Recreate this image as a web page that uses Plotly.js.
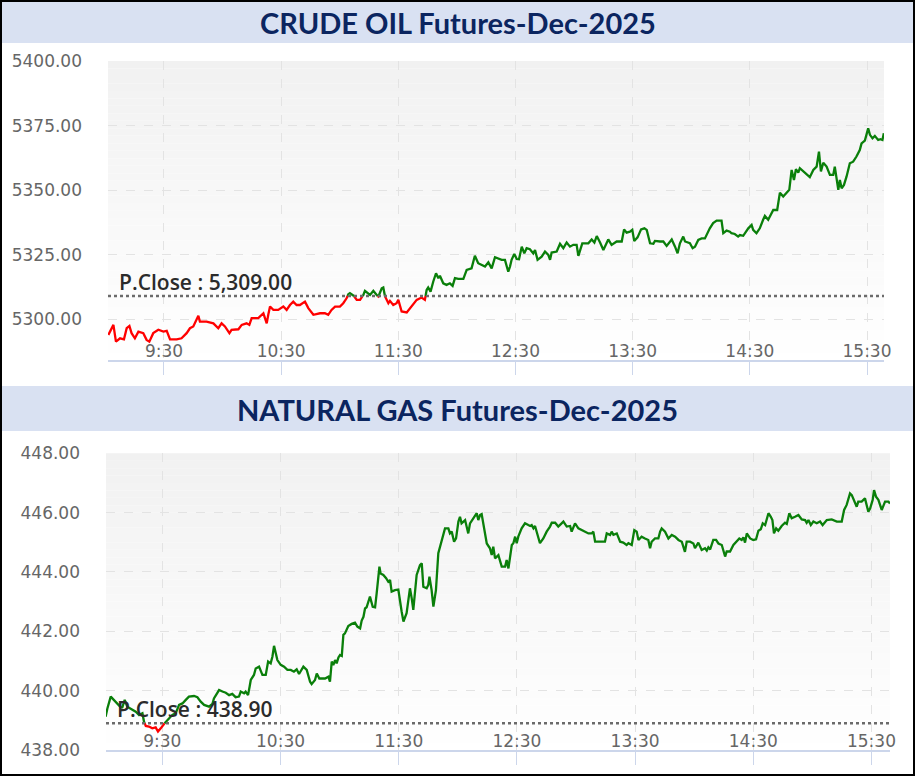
<!DOCTYPE html>
<html>
<head>
<meta charset="utf-8">
<script src="https://cdn.plot.ly/plotly-3.0.1.min.js"></script>
<style>
  html, body { margin: 0; padding: 0; background: #ffffff; }
  #chart { width: 915px; height: 776px; }
</style>
</head>
<body>
<div id="chart"></div>
<script>
// ---------------- DATA ----------------
// minutes after 09:00 for each sampled price
const crudeTitle = "CRUDE OIL Futures-Dec-2025";
const gasTitle = "NATURAL GAS Futures-Dec-2025";
const tickMinutes = [30, 90, 150, 210, 270, 330, 390];
const tickLabels = ["9:30", "10:30", "11:30", "12:30", "13:30", "14:30", "15:30"];

const crudePrevClose = 5309.00;
const crudeTicks = [5300, 5325, 5350, 5375, 5400];
const crudeMinutes = [
  1.5,4.1,5.4,7.5,9.5,10.9,12.3,13.4,15.1,16.9,19.4,21.1,22.5,24.5,27.1,29.7,31.4,33.1,36.5,39.0,
  41.6,43.3,45.0,46.7,47.6,48.4,51.8,55.3,57.8,59.5,61.2,63.5,64.6,68.1,69.8,72.3,73.7,74.9,78.3,80.9,
  82.6,83.4,84.3,86.0,88.5,91.1,92.8,94.5,96.2,97.9,99.6,102.2,103.9,106.5,109.9,112.4,114.1,115.8,117.6,120.1,
  121.8,123.5,
  124.4,125.2,126.9,128.7,130.4,132.1,132.9,134.6,135.5,137.2,138.9,139.8,141.5,142.3,143.2,144.9,145.7,147.4,149.1,150.0,
  151.7,154.3,156.0,157.7,159.4,161.9,163.6,164.5,165.3,166.5,167.9,169.3,170.5,171.3,173.0,174.7,176.4,177.8,179.0,180.7,
  183.3,185.0,187.5,189.2,190.9,192.7,194.4,196.1,197.8,
  199.5,201.2,202.9,204.6,206.3,207.2,208.0,209.4,210.6,211.8,213.2,214.5,215.7,217.4,219.1,220.0,220.8,221.3,223.4,225.1,
  226.8,227.7,228.5,231.1,232.8,234.5,236.2,237.9,239.6,241.3,242.2,244.2,247.3,249.0,250.4,251.6,253.3,255.0,257.5,259.2,
  261.8,264.4,265.6,266.9,268.6,269.8,270.8,272.5,274.3,276.0,277.2,278.9,280.6,281.4,284.0,285.7,287.4,288.6,290.0,291.7,
  293.0,294.2,295.9,296.8,
  299.3,300.7,301.9,303.6,305.3,307.0,307.8,309.5,311.2,313.0,315.5,316.4,318.1,319.8,320.6,322.3,324.0,324.9,326.6,327.5,
  329.2,330.9,331.7,333.4,335.1,336.8,337.7,339.4,341.1,342.0,344.0,345.4,347.1,348.8,350.2,351.4,352.6,353.6,354.8,355.6,
  357.3,359.0,360.7,362.5,364.2,365.4,366.4,367.6,369.3,371.0,372.7,373.5,375.3,376.1,377.0,378.2,379.5,381.2,382.9,384.6,
  386.3,387.2,388.9,390.6,391.5,392.8,394.0,395.7,396.9,397.9,398.6
];
const crudePrices = [
  5293.9,5297.8,5291.3,5292.6,5292.2,5296.5,5297.4,5294.6,5292.6,5295.2,5294.6,5292.0,5291.3,5294.6,5295.9,5295.2,5295.5,5292.2,5292.2,5292.6,
  5294.6,5296.5,5297.2,5299.7,5301.3,5299.1,5299.1,5298.4,5296.5,5298.4,5297.2,5294.6,5295.9,5296.1,5297.8,5298.4,5297.8,5300.4,5300.4,5302.3,
  5298.4,5301.7,5304.9,5303.6,5303.6,5304.9,5303.6,5305.5,5306.8,5305.5,5305.5,5306.8,5304.3,5301.7,5302.3,5302.3,5301.7,5303.6,5304.9,5304.9,
  5306.2,5308.1,
  5309.7,5310.1,5309.4,5307.5,5307.5,5309.4,5311.0,5310.1,5309.4,5311.0,5309.2,5308.8,5312.0,5312.3,5308.8,5306.2,5307.1,5305.5,5306.2,5307.5,
  5303.0,5302.6,5304.3,5306.2,5307.5,5308.4,5307.5,5311.3,5312.3,5310.7,5314.6,5317.8,5315.9,5316.8,5313.9,5313.3,5313.9,5312.9,5315.9,5315.6,
  5315.6,5319.1,5319.7,5324.6,5321.7,5321.0,5320.4,5322.0,5319.7,
  5324.0,5323.6,5323.0,5323.0,5318.4,5320.4,5323.0,5325.3,5323.3,5323.2,5328.1,5325.5,5327.5,5327.1,5325.5,5326.8,5324.9,5323.0,5324.2,5326.2,
  5324.9,5323.0,5325.8,5326.2,5329.2,5327.5,5329.7,5328.1,5328.8,5328.8,5324.5,5329.4,5329.4,5330.9,5329.7,5332.2,5329.7,5326.8,5330.9,5328.8,
  5330.1,5330.1,5334.8,5333.5,5333.9,5334.6,5330.3,5331.7,5334.8,5335.2,5334.6,5329.4,5329.2,5330.3,5330.1,5330.1,5328.4,5329.7,5330.9,5328.1,
  5325.5,5329.4,5332.0,5330.1,
  5329.4,5327.5,5328.1,5330.7,5331.3,5331.3,5332.6,5335.2,5337.2,5338.2,5338.2,5333.3,5334.3,5333.9,5333.3,5333.0,5332.0,5332.6,5332.3,5333.3,
  5335.2,5336.5,5334.6,5333.3,5335.2,5338.5,5340.0,5338.5,5340.8,5342.3,5342.3,5349.0,5347.5,5348.8,5350.1,5357.8,5353.9,5358.1,5356.8,5358.5,
  5357.2,5355.9,5355.0,5357.8,5359.1,5364.9,5357.2,5360.6,5359.1,5355.9,5355.9,5359.1,5350.1,5353.9,5350.7,5352.0,5355.2,5360.4,5361.0,5363.0,
  5365.5,5368.1,5369.2,5373.9,5371.4,5370.1,5371.0,5369.4,5369.7,5369.4,5372.0
];

const gasPrevClose = 438.90;
const gasTicks = [438, 440, 442, 444, 446, 448];
const gasMinutes = [
  1.2,2.1,3.8,5.5,7.2,8.9,9.7,10.9,12.2,14.0,16.5,18.2,19.9,20.7,21.6,23.2,24.9,26.6,27.8,29.2,
  30.9,32.5,34.2,35.1,36.8,38.5,40.2,41.9,43.5,46.1,47.8,49.5,51.2,53.7,55.4,56.2,57.9,58.8,60.5,62.2,
  63.9,65.5,67.2,68.9,69.8,71.5,72.3,73.5,74.3,74.9,76.5,77.4,79.1,80.8,82.5,83.7,85.0,85.9,86.7,87.5,
  88.4,90.1,91.8,93.5,95.2,96.8,98.2,99.4,
  101.6,103.3,105.0,105.8,107.5,108.4,109.7,112.6,114.3,115.1,116.0,116.8,117.7,118.5,119.4,120.2,121.1,121.9,122.7,124.4,
  126.1,127.8,129.0,130.4,131.2,132.1,132.9,133.7,135.4,136.8,138.0,138.8,139.7,140.2,140.8,142.2,143.6,144.7,145.6,146.4,
  148.1,149.8,151.5,152.4,154.0,154.9,155.7,156.6,157.4,159.1,160.8,161.7,162.5,164.2,165.0,165.6,166.7,167.6,168.9,170.1,
  171.8,173.5,175.2,176.0,176.9,178.1,179.1,180.3,181.1,181.9,183.7,185.3,186.2,187.9,189.6,190.4,191.3,192.1,193.0,194.7,
  196.3,197.2,198.0,
  198.9,200.6,202.3,204.0,204.8,205.7,206.5,207.4,208.2,209.1,209.9,210.7,212.4,214.1,215.8,216.7,217.5,218.4,219.2,220.1,
  220.9,221.7,223.4,225.1,226.8,227.7,229.4,231.0,232.7,233.6,235.3,237.0,237.8,239.5,241.2,242.9,244.6,246.3,248.0,248.8,
  249.7,253.0,254.7,255.6,257.3,258.1,259.0,260.7,262.4,264.0,265.7,266.6,268.3,269.6,270.8,271.7,273.3,275.0,276.7,277.6,
  278.4,280.1,281.8,282.7,283.5,285.2,286.9,288.6,290.3,292.0,293.7,295.3,296.2,
  297.9,299.6,300.4,302.1,303.8,305.5,306.4,307.2,308.1,308.9,309.7,311.1,312.3,314.0,314.8,315.7,316.5,318.2,319.9,321.6,
  322.9,324.1,325.0,325.8,326.7,328.4,330.0,331.4,332.6,333.8,334.8,336.0,336.8,337.7,338.9,339.7,340.5,341.6,342.7,344.4,
  346.1,347.0,348.3,349.5,351.2,352.9,354.6,356.3,357.1,358.0,359.2,360.5,362.2,363.9,365.2,367.3,369.8,372.4,374.9,376.1,
  377.4,378.3,379.1,380.0,381.2,382.5,383.3,385.0,386.7,388.4,389.3,390.6,391.3,392.3,393.5,395.2,396.9,398.6,399.4
];
const gasPrices = [
  439.12,439.40,439.80,439.69,439.57,439.44,439.44,439.69,439.46,439.40,439.29,439.18,439.24,438.95,438.81,438.79,438.73,438.76,438.62,438.73,
  438.88,439.01,439.12,439.18,439.24,439.52,439.57,439.69,439.80,439.82,439.78,439.63,439.52,439.46,439.55,439.74,439.91,440.02,439.97,439.93,
  439.85,439.89,439.78,439.80,439.97,439.91,439.97,439.85,440.13,440.36,440.53,440.75,440.81,440.53,440.53,440.98,440.92,441.15,441.51,441.26,
  441.03,440.87,440.81,440.70,440.70,440.64,440.72,440.56,
  440.81,440.70,440.30,440.22,440.36,440.58,440.41,440.41,440.47,440.30,440.98,440.86,441.03,440.92,441.12,441.20,441.17,441.88,441.93,442.18,
  442.25,442.29,442.16,442.10,442.36,442.49,442.77,442.81,443.17,442.83,442.81,443.28,443.84,444.18,443.95,443.90,443.79,443.67,443.73,443.34,
  443.39,443.41,442.66,442.33,442.61,443.06,443.45,443.11,442.72,443.90,444.23,444.29,443.50,443.45,443.56,443.84,443.39,442.83,443.39,444.63,
  445.08,445.47,445.47,445.30,445.36,445.02,445.13,445.70,445.86,445.64,445.75,445.30,445.64,445.81,445.98,445.75,445.92,445.95,445.58,444.96,
  444.80,444.57,444.85,
  444.46,444.57,444.18,444.18,444.40,444.12,444.52,444.91,444.97,445.19,444.97,445.19,445.47,445.64,445.58,445.55,445.58,445.47,445.55,445.36,
  445.13,444.97,445.13,445.36,445.53,445.66,445.66,445.53,445.64,445.70,445.53,445.55,445.36,445.64,445.47,445.41,445.36,445.30,445.30,445.36,
  445.02,445.02,445.02,445.30,445.25,445.36,445.25,445.30,445.02,444.99,444.91,444.97,444.91,445.41,445.36,445.08,445.19,445.13,445.08,444.80,
  445.02,445.13,445.13,445.36,445.47,445.36,445.13,445.25,445.19,445.08,445.02,444.68,445.02,
  445.02,444.96,444.80,444.99,444.74,444.80,444.72,444.83,444.76,444.91,445.08,445.08,444.96,444.91,444.76,444.52,444.69,444.69,444.91,445.02,
  445.13,445.08,445.17,444.99,445.30,445.13,445.08,445.10,445.39,445.44,445.64,445.58,445.81,445.98,445.86,445.75,445.30,445.47,445.39,445.55,
  445.66,445.62,445.98,445.81,445.86,445.92,445.77,445.75,445.66,445.75,445.58,445.70,445.64,445.70,445.58,445.75,445.77,445.70,445.70,446.09,
  446.26,446.43,446.65,446.59,446.37,446.20,446.37,446.37,446.48,446.03,446.14,446.43,446.76,446.54,446.43,446.09,446.37,446.37,446.31
];

// ---------------- DRAWING ----------------
const W = 915, H = 776;
const px = v => v / W;           // pixel -> paper x
const py = v => 1 - v / H;       // pixel -> paper y
const GREEN = "#0a7f0a", RED = "#ff0000";

// Split a series into segments above / below the previous close
function splitAtLevel(xs, ys, level) {
  const up = { x: [], y: [] }, dn = { x: [], y: [] };
  for (let i = 0; i < xs.length; i++) {
    const above = ys[i] >= level;
    if (i > 0) {
      const prevAbove = ys[i - 1] >= level;
      if (prevAbove !== above) {
        const f = (level - ys[i - 1]) / (ys[i] - ys[i - 1]);
        const xc = xs[i - 1] + f * (xs[i] - xs[i - 1]);
        const from = prevAbove ? up : dn, to = above ? up : dn;
        from.x.push(xc, null); from.y.push(level, null);
        to.x.push(xc); to.y.push(level);
      }
    }
    const seg = above ? up : dn;
    seg.x.push(xs[i]); seg.y.push(ys[i]);
  }
  return { up, dn };
}

function lineTraces(xs, ys, level, xa, ya) {
  const s = splitAtLevel(xs, ys, level);
  return [
    { x: s.dn.x, y: s.dn.y, xaxis: xa, yaxis: ya, type: "scatter", mode: "lines",
      line: { color: RED, width: 2.3 }, connectgaps: false, hoverinfo: "skip" },
    { x: s.up.x, y: s.up.y, xaxis: xa, yaxis: ya, type: "scatter", mode: "lines",
      line: { color: GREEN, width: 2.3 }, connectgaps: false, hoverinfo: "skip" }
  ];
}

function gradientBands(xref, yref) {
  const n = 40, out = [];
  for (let k = 0; k < n; k++) {
    const f = (k + 0.5) / n;                 // 0 bottom .. 1 top
    const c = Math.round(255 - 14 * f);
    out.push({ type: "rect", xref: xref + " domain", yref: yref + " domain",
      x0: 0, x1: 1, y0: k / n, y1: (k + 1) / n, fillcolor: `rgb(${c},${c},${c})`,
      line: { width: 0 }, layer: "below" });
  }
  return out;
}

const fmt = v => v.toLocaleString("en-US", { minimumFractionDigits: 2, maximumFractionDigits: 2 });

const tickFont = { family: "DejaVu Sans, Verdana, sans-serif", size: 17, color: "#666666" };

function xAxis(domain, range, anchor) {
  return {
    domain, range, anchor, type: "linear",
    tickmode: "array", tickvals: tickMinutes, ticktext: tickLabels,
    ticks: "outside", ticklen: 13, tickcolor: "#ccd6eb", tickwidth: 1,
    ticklabelposition: "inside", ticklabeloverflow: "allow", tickfont: tickFont,
    showline: true, linecolor: "#ccd6eb", linewidth: 1.5,
    showgrid: true, gridcolor: "#e3e3e3", griddash: "dash", gridwidth: 1,
    zeroline: false, fixedrange: true
  };
}
function yAxis(domain, range, anchor, ticks) {
  return {
    domain, range, anchor, tickmode: "array", tickvals: ticks,
    tickformat: ".2f", tickfont: tickFont, ticks: "", ticklabelstandoff: 25,
    showline: false, showgrid: true, gridcolor: "#e3e3e3", griddash: "dash", gridwidth: 1,
    zeroline: false, fixedrange: true
  };
}

const data = [
  ...lineTraces(crudeMinutes, crudePrices, crudePrevClose, "x", "y"),
  ...lineTraces(gasMinutes, gasPrices, gasPrevClose, "x2", "y2")
];

const titleFont = { family: "Lato, 'Open Sans', sans-serif", size: 29, color: "#0b2560", weight: 700 };
const pcFont = { family: "'Open Sans', sans-serif", size: 21, color: "#2b2b2b", weight: 600 };

const layout = {
  width: W, height: H,
  margin: { l: 0, r: 0, t: 0, b: 0 },
  paper_bgcolor: "#ffffff", plot_bgcolor: "rgba(0,0,0,0)",
  showlegend: false,
  xaxis: xAxis([px(108), px(884)], [1.33, 398.7], "y"),
  yaxis: yAxis([py(360), py(61)], [5284.2, 5400], "x", crudeTicks),
  xaxis2: xAxis([px(106), px(890)], [1.4, 399.4], "y2"),
  yaxis2: yAxis([py(750), py(453.3)], [438, 448], "x2", gasTicks),
  shapes: [
    // title bars
    { type: "rect", xref: "paper", yref: "paper", x0: 0, x1: 1, y0: py(43), y1: 1,
      fillcolor: "#d9e1f2", line: { width: 0 }, layer: "below" },
    { type: "rect", xref: "paper", yref: "paper", x0: 0, x1: 1, y0: py(431), y1: py(386),
      fillcolor: "#d9e1f2", line: { width: 0 }, layer: "below" },
    ...gradientBands("x", "y"),
    ...gradientBands("x2", "y2"),
    // previous close dotted lines
    { type: "line", xref: "x domain", yref: "y", x0: 0, x1: 1, y0: crudePrevClose, y1: crudePrevClose,
      line: { color: "#6b6b6b", width: 2.5, dash: "dot" }, layer: "above" },
    { type: "line", xref: "x2 domain", yref: "y2", x0: 0, x1: 1, y0: gasPrevClose, y1: gasPrevClose,
      line: { color: "#6b6b6b", width: 2.5, dash: "dot" }, layer: "above" },
    // outer border
    { type: "rect", xref: "paper", yref: "paper", x0: px(1), x1: px(914), y0: py(775), y1: py(1),
      line: { color: "#000000", width: 2 }, fillcolor: "rgba(0,0,0,0)", layer: "above" }
  ],
  annotations: [
    { text: crudeTitle, xref: "paper", yref: "paper", x: 0.5, y: py(22), xanchor: "center",
      yanchor: "middle", showarrow: false, font: titleFont },
    { text: gasTitle, xref: "paper", yref: "paper", x: 0.5, y: py(409), xanchor: "center",
      yanchor: "middle", showarrow: false, font: titleFont },
    { text: "P.Close : " + fmt(crudePrevClose), xref: "x domain", yref: "y", x: 0.011, y: crudePrevClose,
      xanchor: "left", yanchor: "bottom", yshift: -2, showarrow: false, font: pcFont },
    { text: "P.Close : " + fmt(gasPrevClose), xref: "x2 domain", yref: "y2", x: 0.011, y: gasPrevClose,
      xanchor: "left", yanchor: "bottom", yshift: -2, showarrow: false, font: pcFont }
  ]
};

Plotly.newPlot("chart", data, layout, { displayModeBar: false, staticPlot: true });
</script>
</body>
</html>
